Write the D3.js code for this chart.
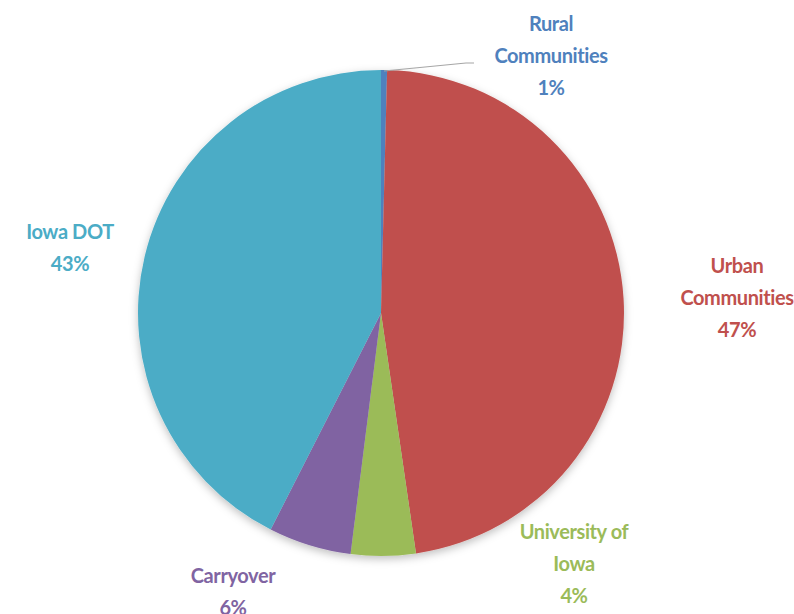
<!DOCTYPE html>
<html>
<head>
<meta charset="utf-8">
<script src="https://cdn.jsdelivr.net/npm/d3@7"></script>
<style>
  body { margin: 0; background: #fff; }
  text { font-family: Lato, "Open Sans", sans-serif; font-weight: bold; font-variant-ligatures: none; }
</style>
</head>
<body>
<div id="chart"></div>
<script>
var categories = ["Rural Communities", "Urban Communities", "University of Iowa", "Carryover", "Iowa DOT"];
var values = [0.4, 47.3, 4.3, 5.5, 42.5];
var pctLabels = ["1%", "47%", "4%", "6%", "43%"];
var labelLines = [["Rural", "Communities"], ["Urban", "Communities"], ["University of", "Iowa"], ["Carryover"], ["Iowa DOT"]];
var colors = ["#4F81BD", "#C0504D", "#9BBB59", "#8064A2", "#4BACC6"];

var width = 794, height = 614;
var cx = 381, cy = 313, radius = 243;

var svg = d3.select("#chart").append("svg")
    .attr("width", width)
    .attr("height", height);

var defs = svg.append("defs");
var filter = defs.append("filter").attr("id", "shadow")
    .attr("x", "-10%").attr("y", "-10%").attr("width", "120%").attr("height", "120%");
filter.append("feDropShadow")
    .attr("dx", 0).attr("dy", 3).attr("stdDeviation", 4)
    .attr("flood-color", "#000").attr("flood-opacity", 0.25);

var data = categories.map(function(c, i) {
  return {name: c, value: values[i], pct: pctLabels[i], lines: labelLines[i], color: colors[i]};
});

var pie = d3.pie().sort(null).value(function(d) { return d.value; });
var arc = d3.arc().innerRadius(0).outerRadius(radius);

var g = svg.append("g").attr("transform", "translate(" + cx + "," + cy + ")");

g.append("g").attr("filter", "url(#shadow)")
  .selectAll("path")
  .data(pie(data))
  .enter().append("path")
    .attr("d", arc)
    .attr("fill", function(d) { return d.data.color; });

// label anchor points (first baseline), page coords
var labelPos = [[551, 31], [737, 273], [574, 539], [233, 583], [70, 239]];
var lineH = 32;

var arcs = pie(data);

// leader line for the tiny rural slice
var a0 = arcs[0];
var mid = (a0.startAngle + a0.endAngle) / 2;
var px = cx + Math.sin(mid) * radius, py = cy - Math.cos(mid) * radius;
svg.append("polyline")
    .attr("points", [[px, py + 1], [466, 63], [474, 63]].map(function(p) { return p.join(","); }).join(" "))
    .attr("fill", "none")
    .attr("stroke", "#a6a6a6")
    .attr("stroke-width", 1.2);

var labels = svg.append("g");
data.forEach(function(d, i) {
  var lines = d.lines.concat([d.pct]);
  var t = labels.append("text")
      .attr("text-anchor", "middle")
      .attr("fill", d.color)
      .attr("font-size", 20)
      .attr("letter-spacing", -0.4);
  lines.forEach(function(l, j) {
    t.append("tspan")
      .attr("x", labelPos[i][0])
      .attr("y", labelPos[i][1] + j * lineH)
      .text(l);
  });
});
</script>
</body>
</html>
